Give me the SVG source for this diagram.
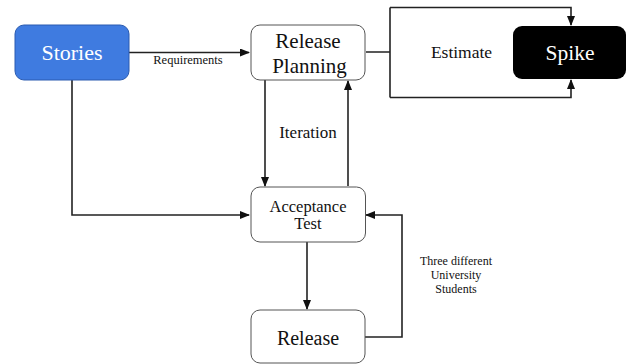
<svg xmlns="http://www.w3.org/2000/svg" width="631" height="364" viewBox="0 0 631 364">
<defs>
<marker id="ah" markerWidth="10" markerHeight="8" refX="9" refY="4" orient="auto" markerUnits="userSpaceOnUse">
<path d="M0,0 L10,4 L0,8 Z" fill="#111"/>
</marker>
<style>
.box{fill:#fff;stroke:#555;stroke-width:1}
text{font-family:"Liberation Serif","Times New Roman","DejaVu Serif",serif}
.t{fill:#111;text-anchor:middle}
.w{fill:#fff;text-anchor:middle}
.c{fill:none;stroke:#222;stroke-width:1.6}
</style>
</defs>
<rect width="631" height="364" fill="#fff"/>
<g id="connectors">
<path class="c" d="M129,52.5 H249" marker-end="url(#ah)"/>
<path class="c" d="M72,80 V215 H249" marker-end="url(#ah)"/>
<path class="c" d="M265,80 V186" marker-end="url(#ah)"/>
<path class="c" d="M348,186 V81" marker-end="url(#ah)"/>
<path class="c" d="M307,242 V309" marker-end="url(#ah)"/>
<path class="c" d="M365,337 H402 V215 H366" marker-end="url(#ah)"/>
<path class="c" d="M366,52 H390 M390,7.5 V97.5"/>
<path class="c" d="M390,7.5 H571 V25" marker-end="url(#ah)"/>
<path class="c" d="M390,97.5 H571 V80" marker-end="url(#ah)"/>
<text class="t" x="188" y="64" font-size="12.5">Requirements</text>
<text class="t" x="308" y="138" font-size="17">Iteration</text>
<text class="t" x="461.5" y="57.5" font-size="17.5">Estimate</text>
<text class="t" x="456" y="265" font-size="12">Three different</text>
<text class="t" x="456" y="278.5" font-size="12">University</text>
<text class="t" x="456" y="292.5" font-size="12">Students</text>
</g>
<g id="stories">
<rect x="15" y="25" width="114" height="55" rx="9" fill="#3f7be0" stroke="#2a5bb0" stroke-width="1"/>
<text class="w" x="72" y="60" font-size="22">Stories</text>
</g>
<g id="release-planning">
<rect class="box" x="251" y="25" width="114" height="55" rx="9"/>
<text class="t" x="308" y="48" font-size="21">Release</text>
<text class="t" x="309.5" y="73" font-size="21">Planning</text>
</g>
<g id="spike">
<rect x="513" y="26" width="113" height="53" rx="9" fill="#000"/>
<text class="w" x="570" y="59.5" font-size="21.5">Spike</text>
</g>
<g id="acceptance-test">
<rect class="box" x="251" y="187" width="114.5" height="55" rx="9"/>
<text class="t" x="308" y="211.5" font-size="16.5">Acceptance</text>
<text class="t" x="308" y="229" font-size="16.5">Test</text>
</g>
<g id="release">
<rect class="box" x="251" y="310" width="114" height="53" rx="9"/>
<text class="t" x="308" y="345" font-size="20">Release</text>
</g>
</svg>
